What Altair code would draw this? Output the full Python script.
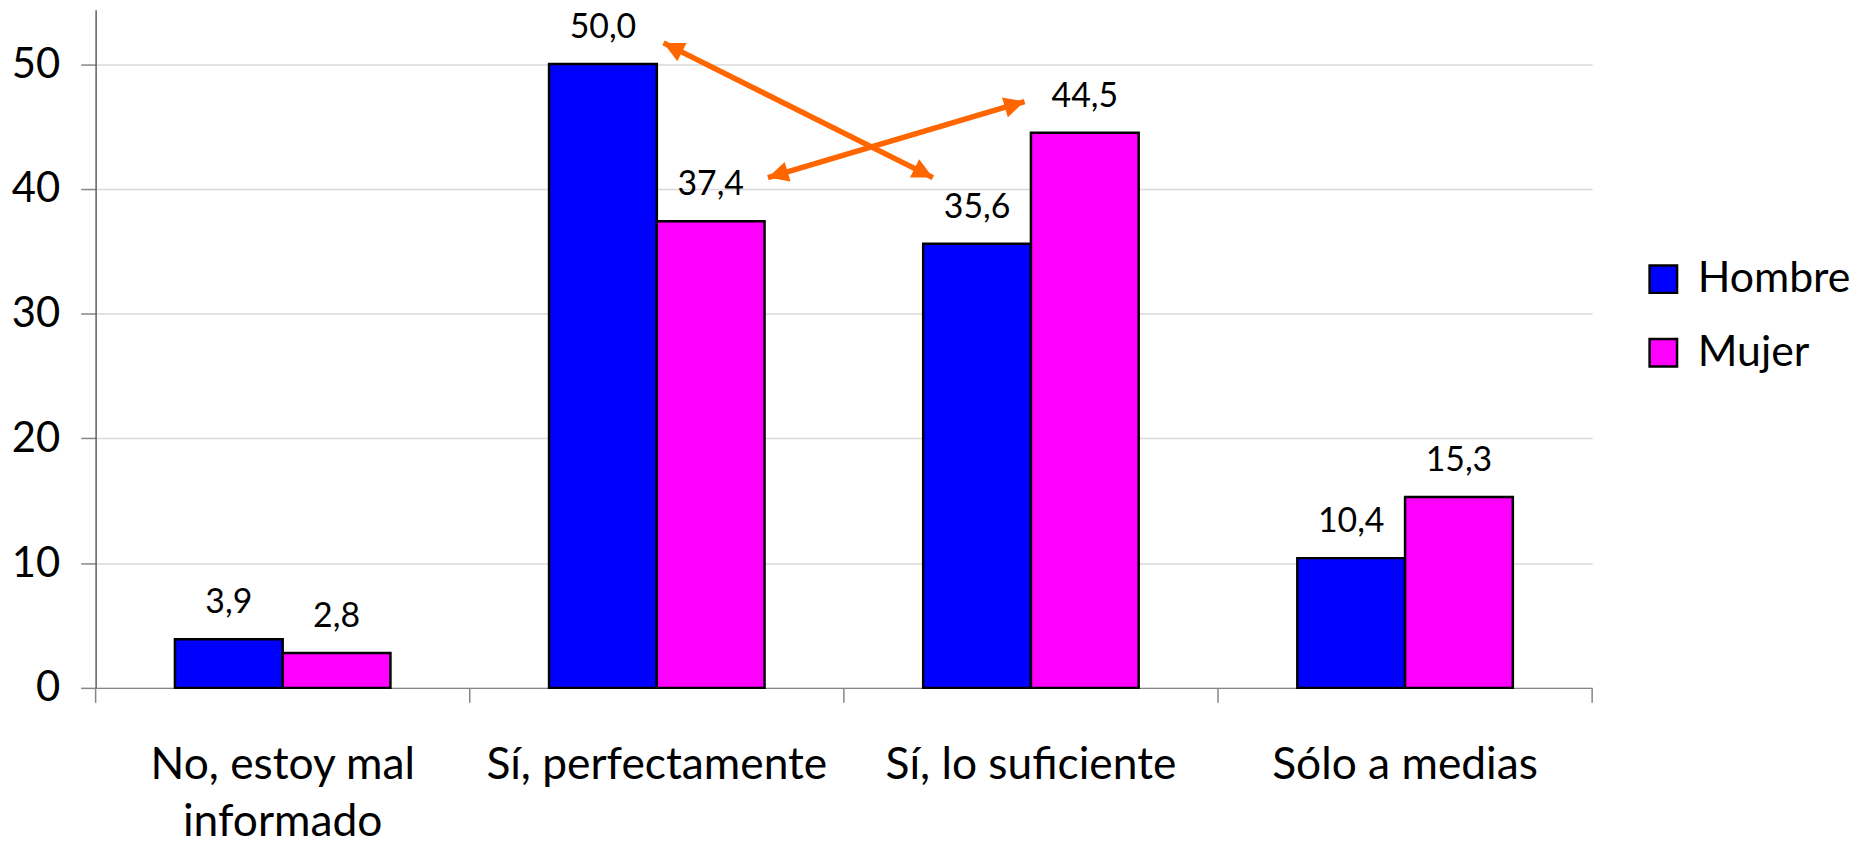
import math
import altair as alt
import pandas as pd

# ---- data ----
categorias = ["No, estoy mal informado", "Sí, perfectamente", "Sí, lo suficiente", "Sólo a medias"]
sexos = ["Hombre", "Mujer"]
hombre = [3.9, 50.0, 35.6, 10.4]
mujer = [2.8, 37.4, 44.5, 15.3]

# category boundaries (category-position units) for the x tick marks
limites = [0, 1, 2, 3, 4]

# annotation arrows (x in category-position units 0..4, y in value units)
flechas = ["A", "B"]
flecha_x0 = [1.518, 1.797]
flecha_y0 = [51.7, 40.9]
flecha_x1 = [2.238, 2.483]
flecha_y1 = [40.9, 47.0]

# ---- style ----
W, H = 1503, 681
YMAX = 54.35
FONT = "Lato"
ORANGE = "#FF6600"
AXIS_GRAY = "#868686"

rows = []
for c, h, m in zip(categorias, hombre, mujer):
    rows.append({"cat": c, "sexo": "Hombre", "valor": h})
    rows.append({"cat": c, "sexo": "Mujer", "valor": m})
df = pd.DataFrame(rows)
df["etiqueta"] = df["valor"].map(lambda v: f"{v:.1f}".replace(".", ","))

line_rows, head_rows = [], []
for f, x0, y0, x1, y1 in zip(flechas, flecha_x0, flecha_y0, flecha_x1, flecha_y1):
    line_rows.append({"flecha": f, "ax": x0, "ay": y0, "o": 0})
    line_rows.append({"flecha": f, "ax": x1, "ay": y1, "o": 1})
    dx = (x1 - x0) / 4 * W
    dy = -(y1 - y0) / YMAX * H
    ang_end = math.degrees(math.atan2(dx, -dy)) % 360
    ang_start = (ang_end + 180) % 360
    head_rows.append({"ax": x0, "ay": y0, "ang": ang_start})
    head_rows.append({"ax": x1, "ay": y1, "ang": ang_end})
lines_df = pd.DataFrame(line_rows)
heads_df = pd.DataFrame(head_rows)
ticks_df = pd.DataFrame({"ax": limites})

yscale = alt.Scale(domain=[0, YMAX], nice=False, zero=True)
yaxis = alt.Axis(
    title=None,
    values=[0, 10, 20, 30, 40, 50],
    labelFont=FONT,
    labelFontSize=42,
    labelColor="black",
    labelPadding=21,
    tickSize=15,
    tickColor=AXIS_GRAY,
    tickWidth=1.5,
    domainColor="#5f5f5f",
    domainWidth=1.5,
    grid=True,
    gridColor="#d9d9d9",
    gridWidth=1.5,
)

xcat = alt.X(
    "cat:N",
    sort=categorias,
    scale=alt.Scale(paddingInner=0.424, paddingOuter=0.212),
    axis=alt.Axis(
        title=None,
        labelAngle=0,
        labelFont=FONT,
        labelFontSize=44.5,
        labelColor="black",
        labelBaseline="alphabetic",
        labelLineHeight=57,
        labelPadding=91,
        labelLimit=0,
        ticks=False,
        domainColor=AXIS_GRAY,
        domainWidth=1.5,
        labelExpr="datum.label == 'No, estoy mal informado' ? ['No, estoy mal', 'informado'] : datum.label",
    ),
)
xoff = alt.XOffset("sexo:N", sort=sexos, scale=alt.Scale(paddingInner=0, paddingOuter=0))

bars = alt.Chart(df).mark_bar(stroke="black", strokeWidth=2.5).encode(
    x=xcat,
    xOffset=xoff,
    y=alt.Y("valor:Q", scale=yscale, axis=yaxis),
    color=alt.Color(
        "sexo:N",
        sort=sexos,
        scale=alt.Scale(domain=sexos, range=["#0000FF", "#FF00FF"]),
        legend=alt.Legend(
            title=None,
            orient="none",
            legendX=1553,
            legendY=249,
            labelFont=FONT,
            labelFontSize=43,
            labelColor="black",
            labelOffset=13,
            symbolType="square",
            symbolSize=760,
            symbolStrokeColor="black",
            symbolStrokeWidth=2.5,
            rowPadding=30,
            padding=0,
        ),
    ),
)

labels = alt.Chart(df).mark_text(
    baseline="alphabetic", dy=-26, font=FONT, fontSize=34, color="black"
).encode(x=xcat, xOffset=xoff, y=alt.Y("valor:Q", scale=yscale, axis=yaxis), text="etiqueta:N")

xq = alt.X("ax:Q", scale=alt.Scale(domain=[0, 4], nice=False, zero=False), axis=None)

tick_marks = alt.Chart(ticks_df).mark_rule(color=AXIS_GRAY, strokeWidth=1.5).encode(
    x=xq, y=alt.value(H), y2=alt.value(H + 15)
)

arrow_lines = alt.Chart(lines_df).mark_line(
    color=ORANGE, strokeWidth=5.5, strokeCap="butt"
).encode(x=xq, y=alt.Y("ay:Q", scale=yscale, axis=yaxis), detail="flecha:N", order="o:Q")

arrow_heads = alt.Chart(heads_df).mark_point(
    shape="M0,0L0.5,1L-0.5,1Z", filled=True, size=1700, color=ORANGE, opacity=1, strokeWidth=0
).encode(x=xq, y=alt.Y("ay:Q", scale=yscale, axis=yaxis), angle=alt.Angle("ang:Q", scale=None))

bar_layer = alt.layer(bars, labels)
arrow_layer = alt.layer(tick_marks, arrow_lines, arrow_heads)

chart = (
    alt.layer(bar_layer, arrow_layer)
    .resolve_scale(x="independent")
    .properties(
        width=W,
        height=H,
        autosize=alt.AutoSizeParams(type="none"),
        padding={"left": 88, "top": 0, "right": 262, "bottom": 160},
        background="white",
    )
    .configure_view(stroke=None)
)

chart.save("out.html", embed_options={"renderer": "svg", "actions": False})
